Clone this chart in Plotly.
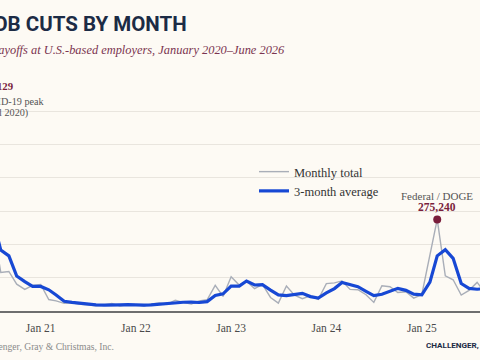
import plotly.graph_objects as go

# ---- data (announced job cuts, monthly) ----
months = [
    "2020-01-01", "2020-02-01", "2020-03-01", "2020-04-01", "2020-05-01", "2020-06-01",
    "2020-07-01", "2020-08-01", "2020-09-01", "2020-10-01", "2020-11-01", "2020-12-01",
    "2021-01-01", "2021-02-01", "2021-03-01", "2021-04-01", "2021-05-01", "2021-06-01",
    "2021-07-01", "2021-08-01", "2021-09-01", "2021-10-01", "2021-11-01", "2021-12-01",
    "2022-01-01", "2022-02-01", "2022-03-01", "2022-04-01", "2022-05-01", "2022-06-01",
    "2022-07-01", "2022-08-01", "2022-09-01", "2022-10-01", "2022-11-01", "2022-12-01",
    "2023-01-01", "2023-02-01", "2023-03-01", "2023-04-01", "2023-05-01", "2023-06-01",
    "2023-07-01", "2023-08-01", "2023-09-01", "2023-10-01", "2023-11-01", "2023-12-01",
    "2024-01-01", "2024-02-01", "2024-03-01", "2024-04-01", "2024-05-01", "2024-06-01",
    "2024-07-01", "2024-08-01", "2024-09-01", "2024-10-01", "2024-11-01", "2024-12-01",
    "2025-01-01", "2025-02-01", "2025-03-01", "2025-04-01", "2025-05-01", "2025-06-01",
    "2025-07-01", "2025-08-01", "2025-09-01",
]
monthly_total = [
    67735, 56660, 222288, 671129, 397016, 170219, 262649, 115762, 118804, 80666, 64797, 77030,
    79552, 34531, 30603, 22913, 24586, 20476, 18942, 15723, 17895, 22822, 14875, 19052,
    19064, 15245, 21387, 24286, 20712, 32517, 25810, 20781, 29989, 33843, 76835, 43651,
    102943, 77770, 89703, 66995, 80089, 40709, 23697, 75151, 47457, 36836, 45510, 34817,
    82307, 84638, 90309, 64789, 63816, 48786, 25885, 75891, 72821, 55597, 57727, 38792,
    49795, 172017, 275240, 105441, 93816, 47999, 62075, 85979, 54064,
]
avg_months = months[2:]
three_month_avg = [
    115561, 316692, 430144, 412788, 276628, 182877, 165738, 105077, 88089, 74164,
    73793, 63704, 48229, 29349, 26034, 22658, 21335, 18380, 17520, 18813, 18531, 18916,
    17664, 17787, 18565, 20306, 22128, 25838, 26346, 26369, 25527, 28204, 46889, 51443,
    74476, 74788, 90139, 78156, 78929, 62598, 48165, 46519, 48768, 53148, 43268, 39054,
    54211, 67254, 85751, 79912, 72971, 59130, 46162, 50187, 58199, 68103, 62048, 50705,
    48771, 86868, 165684, 184233, 158166, 82419, 67963, 65351, 67373,
]
tick_vals = ["2020-01-01", "2021-01-01", "2022-01-01", "2023-01-01",
             "2024-01-01", "2025-01-01", "2026-01-01"]
tick_text = ["Jan 20", "Jan 21", "Jan 22", "Jan 23", "Jan 24", "Jan 25", "Jan 26"]
doge_month, doge_value = "2025-03-01", 275240
covid_value = 671129

BG = "#fdfaf4"
SERIF = "Liberation Serif, DejaVu Serif, serif"
COND = "Roboto, Liberation Sans, sans-serif"
MAROON = "#7a1e3c"
NAVY = "#1c2b45"

fig = go.Figure()
fig.add_trace(go.Scatter(
    x=months, y=monthly_total, mode="lines", name="Monthly total",
    line=dict(color="#a9aeb8", width=1.4), hoverinfo="skip"))
fig.add_trace(go.Scatter(
    x=avg_months, y=three_month_avg, mode="lines", name="3-month average",
    line=dict(color="#1748d4", width=3.2), hoverinfo="skip"))
fig.add_trace(go.Scatter(
    x=[doge_month], y=[doge_value], mode="markers", showlegend=False,
    marker=dict(color=MAROON, size=8), hoverinfo="skip"))

W, H = 480, 360
TOP, BOT = 78, 311


def px(x):
    return x / W


def py(y):
    return (BOT - y) / (BOT - TOP)


ann = []
# title and subtitle (cropped at the left edge, as in the reference)
ann.append(dict(text="<b>JOB CUTS BY MONTH</b>", x=px(189), y=py(24), xanchor="right",
                yanchor="middle", font=dict(family=COND, size=20.5, color=NAVY)))
ann.append(dict(text="<i>Announced layoffs at U.S.-based employers, January 2020\u2013June 2026</i>",
                x=px(287), y=py(50), xanchor="right", yanchor="middle",
                font=dict(family=SERIF, size=12.4, color="#7b3450")))
# covid peak note
ann.append(dict(text="<b>%s</b>" % f"{covid_value:,}", x=px(15.5), y=py(86), xanchor="right",
                yanchor="middle", font=dict(family=SERIF, size=10.8, color=MAROON)))
ann.append(dict(text="COVID-19 peak", x=px(46.5), y=py(101), xanchor="right",
                yanchor="middle", font=dict(family=SERIF, size=10.2, color="#555555")))
ann.append(dict(text="(April 2020)", x=px(30), y=py(113), xanchor="right",
                yanchor="middle", font=dict(family=SERIF, size=10.2, color="#555555")))
# DOGE note
ann.append(dict(text="Federal / DOGE", x=doge_month, y=doge_value, xref="x", yref="y",
                yshift=23, xanchor="center", yanchor="middle",
                font=dict(family=SERIF, size=11, color="#555555")))
ann.append(dict(text="<b>%s</b>" % f"{doge_value:,}", x=doge_month, y=doge_value, xref="x", yref="y",
                yshift=12, xanchor="center", yanchor="middle",
                font=dict(family=SERIF, size=11.5, color=MAROON)))
# footer
ann.append(dict(text="Source: Challenger, Gray & Christmas, Inc.", x=px(116), y=py(346),
                xanchor="right", yanchor="middle",
                font=dict(family=SERIF, size=9.6, color="#8a8a8a")))
ann.append(dict(text="<b>CHALLENGER, GRAY & CHRISTMAS, INC.</b>", x=px(424), y=py(345),
                xanchor="left", yanchor="middle",
                font=dict(family=COND, size=8.1, color=NAVY)))
for a in ann:
    a.setdefault("xref", "paper")
    a.setdefault("yref", "paper")
    a["showarrow"] = False

fig.update_layout(
    width=W, height=H,
    margin=dict(l=0, r=0, t=TOP, b=H - BOT, pad=0, autoexpand=False),
    paper_bgcolor=BG, plot_bgcolor=BG,
    annotations=ann,
    showlegend=True,
    legend=dict(x=px(254), y=py(157), xanchor="left", yanchor="top",
                bgcolor="rgba(0,0,0,0)", borderwidth=0, itemwidth=30,
                font=dict(family=SERIF, size=12.5, color="#333333"),
                tracegroupgap=0),
    xaxis=dict(type="date", range=["2020-07-29", "2025-08-12"],
               tickmode="array", tickvals=tick_vals, ticktext=tick_text,
               showgrid=False, zeroline=False,
               showline=True, linecolor="#6e6e6e", linewidth=2,
               ticks="outside", ticklen=5, tickcolor=BG,
               tickfont=dict(family=SERIF, size=11.5, color="#4a4a4a")),
    yaxis=dict(range=[0, 700000], tickmode="linear", tick0=0, dtick=100000,
               showgrid=True, gridcolor="#e9e5de", gridwidth=1,
               zeroline=False, showticklabels=False, ticks=""),
)

fig.write_html("out.html")
